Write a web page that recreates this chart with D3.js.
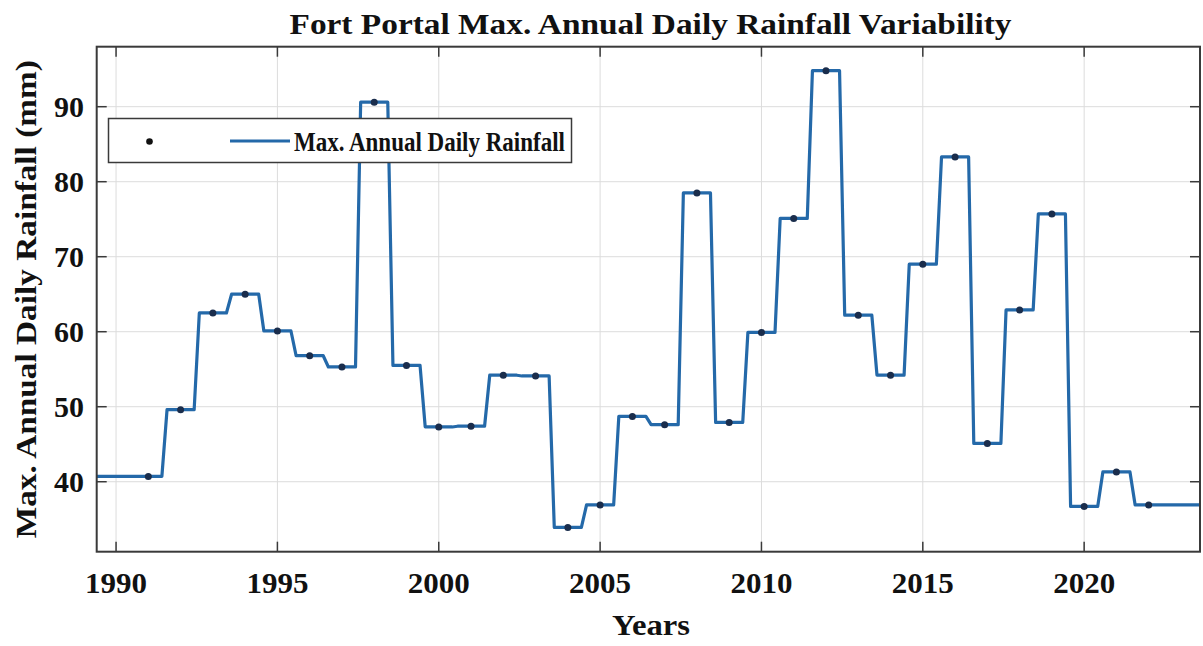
<!DOCTYPE html>
<html>
<head>
<meta charset="utf-8">
<script src="https://cdn.jsdelivr.net/npm/d3@7"></script>
<style>
  html, body { margin: 0; padding: 0; background: #fff; }
  svg { display: block; }
  text { font-family: "Liberation Serif", "Times New Roman", serif; font-weight: bold; fill: #111; }
</style>
</head>
<body>
<svg id="chart" width="1203" height="646"></svg>
<script>
// ---- data ----
const years = [1991, 1992, 1993, 1994, 1995, 1996, 1997, 1998, 1999, 2000, 2001,
               2002, 2003, 2004, 2005, 2006, 2007, 2008, 2009, 2010, 2011, 2012,
               2013, 2014, 2015, 2016, 2017, 2018, 2019, 2020, 2021, 2022];
const rainfall = [40.7, 49.6, 62.5, 65.0, 60.1, 56.8, 55.3, 90.6, 55.5, 47.3, 47.4,
                  54.2, 54.1, 33.9, 36.9, 48.7, 47.6, 78.5, 47.9, 59.9, 75.1, 94.8,
                  62.2, 54.2, 69.0, 83.3, 45.1, 62.9, 75.7, 36.7, 41.3, 36.9];
const xTicks = [1990, 1995, 2000, 2005, 2010, 2015, 2020];
const yTicks = [40, 50, 60, 70, 80, 90];
const xDomain = [1989.4, 2023.59];
const yDomain = [30.67, 98.0];
const titleText = "Fort Portal Max. Annual Daily Rainfall Variability";
const xLabel = "Years";
const yLabel = "Max. Annual Daily Rainfall (mm)";
const legendLabel = "Max. Annual Daily Rainfall";

// ---- layout ----
const svg = d3.select("#chart");
const L = 96.7, R = 1200, T = 46.7, B = 551.7;
const x = d3.scaleLinear().domain(xDomain).range([L, R]);
const y = d3.scaleLinear().domain(yDomain).range([B, T]);

// grid
const grid = svg.append("g");
grid.selectAll(".gx").data(xTicks).enter().append("line")
  .attr("x1", d => x(d)).attr("x2", d => x(d)).attr("y1", T).attr("y2", B)
  .attr("stroke", "#dcdcdc").attr("stroke-width", 1);
grid.selectAll(".gy").data(yTicks).enter().append("line")
  .attr("y1", d => y(d)).attr("y2", d => y(d)).attr("x1", L).attr("x2", R)
  .attr("stroke", "#dcdcdc").attr("stroke-width", 1);

// clip
svg.append("clipPath").attr("id", "clip").append("rect")
  .attr("x", L).attr("y", T).attr("width", R - L).attr("height", B - T);

// step line
const half = 0.42;
const pts = [];
years.forEach((yr, i) => {
  const l = i === 0 ? xDomain[0] : yr - half;
  const r = i === years.length - 1 ? xDomain[1] : yr + half;
  pts.push([l, rainfall[i]], [r, rainfall[i]]);
});
const line = d3.line().x(d => x(d[0])).y(d => y(d[1]));
svg.append("path").attr("clip-path", "url(#clip)")
  .attr("d", line(pts)).attr("fill", "none")
  .attr("stroke", "#2469a9").attr("stroke-width", 3.2)
  .attr("stroke-linejoin", "round").attr("stroke-linecap", "round");

// markers
svg.append("g").selectAll("circle").data(years).enter().append("circle")
  .attr("cx", d => x(d)).attr("cy", (d, i) => y(rainfall[i]))
  .attr("r", 3.5).attr("fill", "#1a2d4c");

// axes (MATLAB style: box, inward ticks on all sides)
const axisColor = "#3a3a3a";
const tl = 10;
const axes = svg.append("g");
axes.append("rect").attr("x", L).attr("y", T).attr("width", R - L).attr("height", B - T)
  .attr("fill", "none").attr("stroke", axisColor).attr("stroke-width", 2);
xTicks.forEach(t => {
  axes.append("line").attr("x1", x(t)).attr("x2", x(t)).attr("y1", B).attr("y2", B - tl)
    .attr("stroke", axisColor).attr("stroke-width", 1.5);
  axes.append("line").attr("x1", x(t)).attr("x2", x(t)).attr("y1", T).attr("y2", T + tl)
    .attr("stroke", axisColor).attr("stroke-width", 1.5);
});
yTicks.forEach(t => {
  axes.append("line").attr("x1", L).attr("x2", L + tl).attr("y1", y(t)).attr("y2", y(t))
    .attr("stroke", axisColor).attr("stroke-width", 1.5);
  axes.append("line").attr("x1", R).attr("x2", R - tl).attr("y1", y(t)).attr("y2", y(t))
    .attr("stroke", axisColor).attr("stroke-width", 1.5);
});

// tick labels
svg.append("g").selectAll("text").data(xTicks).enter().append("text")
  .attr("x", d => x(d)).attr("y", 593).attr("text-anchor", "middle")
  .attr("font-size", 29).attr("textLength", 62).attr("lengthAdjust", "spacingAndGlyphs")
  .text(d => d);
svg.append("g").selectAll("text").data(yTicks).enter().append("text")
  .attr("x", 84).attr("y", d => y(d) + 10).attr("text-anchor", "end")
  .attr("font-size", 29).attr("textLength", 30).attr("lengthAdjust", "spacingAndGlyphs")
  .text(d => d);

// title & axis labels
svg.append("text").attr("x", 650.5).attr("y", 34).attr("text-anchor", "middle")
  .attr("font-size", 29).attr("textLength", 722).attr("lengthAdjust", "spacingAndGlyphs")
  .text(titleText);
svg.append("text").attr("x", 651).attr("y", 635).attr("text-anchor", "middle")
  .attr("font-size", 30).attr("textLength", 78).attr("lengthAdjust", "spacingAndGlyphs")
  .text(xLabel);
svg.append("text").attr("transform", `translate(36,${(T + B) / 2}) rotate(-90)`)
  .attr("text-anchor", "middle")
  .attr("font-size", 29).attr("textLength", 478).attr("lengthAdjust", "spacingAndGlyphs")
  .text(yLabel);

// legend
const lg = svg.append("g");
lg.append("rect").attr("x", 108.5).attr("y", 118.5).attr("width", 463).attr("height", 44)
  .attr("fill", "#fff").attr("stroke", axisColor).attr("stroke-width", 1.5);
lg.append("circle").attr("cx", 149.5).attr("cy", 141.5).attr("r", 3.3).attr("fill", "#111");
lg.append("line").attr("x1", 230).attr("x2", 290).attr("y1", 141).attr("y2", 141)
  .attr("stroke", "#2469a9").attr("stroke-width", 3);
lg.append("text").attr("x", 294).attr("y", 150.5).attr("font-size", 28)
  .attr("textLength", 271).attr("lengthAdjust", "spacingAndGlyphs")
  .text(legendLabel);
</script>
</body>
</html>
